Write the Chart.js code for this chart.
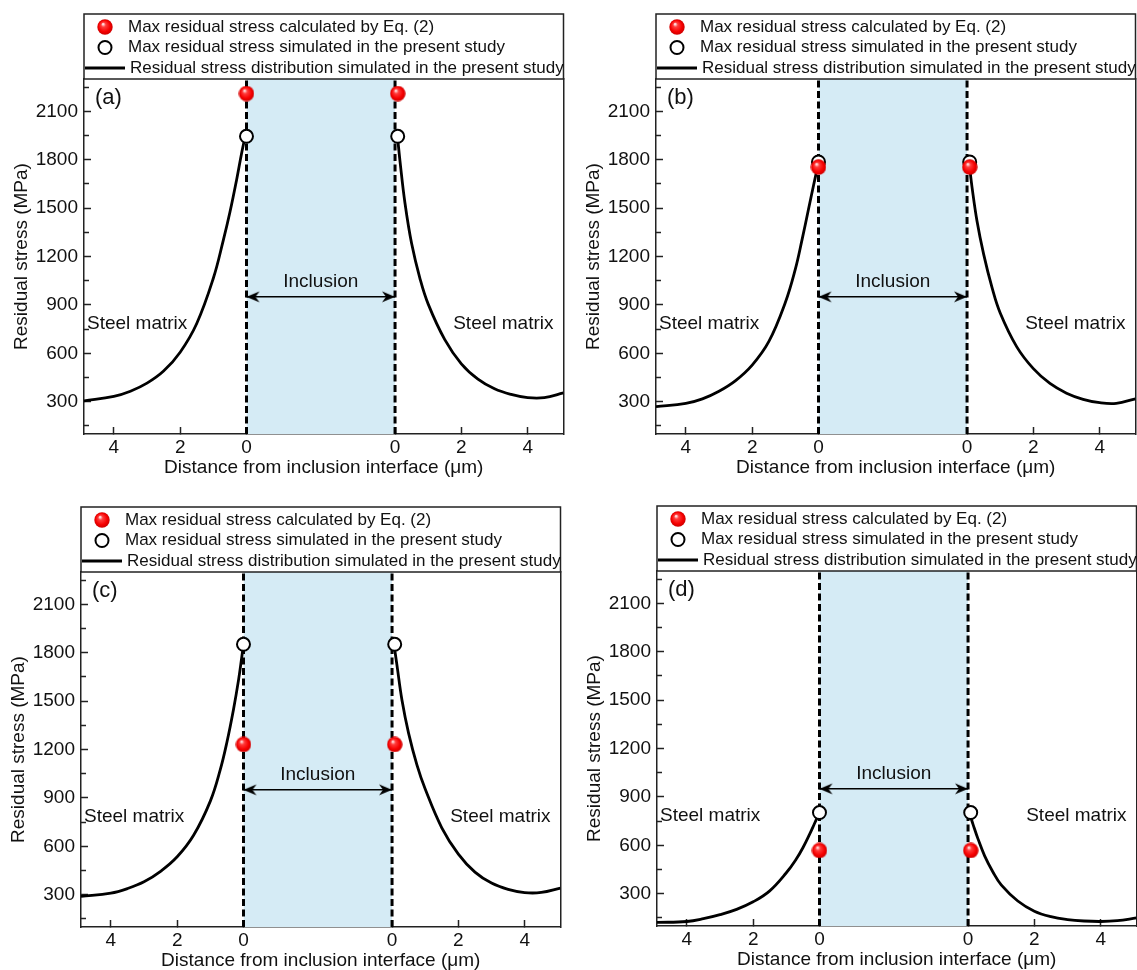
<!DOCTYPE html>
<html>
<head>
<meta charset="utf-8">
<title>Residual stress around inclusion</title>
<script src="https://cdn.jsdelivr.net/npm/chart.js@4.4.1/dist/chart.umd.min.js"></script>
<style>
  html, body { margin: 0; padding: 0; background: #fff; overflow: hidden; }
  body { position: relative; width: 1137px; height: 970px; }
  canvas { position: absolute; }
</style>
</head>
<body>
<canvas id="grafA" width="572" height="485" style="left:0px;top:0px"></canvas>
<canvas id="grafB" width="572" height="485" style="left:572px;top:0px"></canvas>
<canvas id="grafC" width="572" height="485" style="left:-3px;top:493px"></canvas>
<canvas id="grafD" width="572" height="485" style="left:573px;top:492px"></canvas>
<script>
// ---------- data ----------
const incWidth = 4.48;      // width of the inclusion zone on the x axis
const xMinDist = 4.9;       // distance shown left of the inclusion
const xMaxDist = 5.08;      // distance shown right of the inclusion
const yMin = 100;
const yMax = 2300;
const arrowY = 950;
const rightShift = 0.08;    // right markers sit a little off the interface

const xTickLabels = ['4', '2', '0', '0', '2', '4'];
const leftTickDist = [4, 2, 0];
const rightTickDist = [0, 2, 4];
const yTicks = [300, 600, 900, 1200, 1500, 1800, 2100];
const yMinorTicks = [150, 450, 750, 1050, 1350, 1650, 1950, 2250];

const leftDist  = [4.9, 4, 3.5, 3, 2.5, 2, 1.5, 1, 0.7, 0.5, 0.3, 0.15, 0.05, 0];
const rightDist = [0.08, 0.15, 0.3, 0.5, 0.75, 1, 1.5, 2, 2.5, 3, 3.5, 4, 4.5, 5.08];

const stressA_left  = [305, 333, 365, 415, 490, 607, 785, 1065, 1300, 1474, 1673, 1837, 1935, 1980];
const stressA_right = [1930, 1790, 1530, 1280, 1065, 905, 685, 535, 440, 380, 345, 325, 325, 355];
const stressB_left  = [270, 290, 318, 365, 431, 527, 672, 915, 1120, 1300, 1494, 1640, 1735, 1786];
const stressB_right = [1750, 1630, 1420, 1215, 1010, 850, 640, 505, 413, 353, 315, 294, 290, 318];
const stressC_left  = [290, 310, 338, 380, 445, 535, 670, 880, 1075, 1245, 1450, 1630, 1775, 1852];
const stressC_right = [1820, 1720, 1505, 1300, 1105, 955, 715, 552, 440, 372, 333, 313, 314, 341];
const stressD_left  = [122, 128, 145, 170, 203, 250, 318, 430, 515, 585, 668, 735, 780, 803];
const stressD_right = [775, 730, 640, 535, 435, 355, 255, 192, 158, 140, 131, 128, 133, 150];

const calcMax = [2210, 1754, 1231, 568];   // Eq. (2)
const simMax  = [1945, 1786, 1852, 803];   // simulated
const panelNames = ['(a)', '(b)', '(c)', '(d)'];
const legendLabels = [
    'Max residual stress calculated by Eq. (2)',
    'Max residual stress simulated in the present study',
    'Residual stress distribution simulated in the present study'
];

const leftStress  = [stressA_left, stressB_left, stressC_left, stressD_left];
const rightStress = [stressA_right, stressB_right, stressC_right, stressD_right];

const fontFamily = "'Liberation Sans', Arial, sans-serif";
Chart.defaults.font.family = fontFamily;
Chart.defaults.color = '#111';

const xTickPos = leftTickDist.map(d => -d).concat(rightTickDist.map(d => incWidth + d));

// ---------- point images ----------
function makeBall() {
    const c = document.createElement('canvas');
    c.width = 16; c.height = 16;
    const g = c.getContext('2d');
    const grad = g.createRadialGradient(6, 5, 0.5, 8, 8, 8);
    grad.addColorStop(0, '#ffe4e4');
    grad.addColorStop(0.25, '#ff3c3c');
    grad.addColorStop(0.7, '#f60000');
    grad.addColorStop(1, '#c80000');
    g.fillStyle = grad;
    g.beginPath(); g.arc(8, 8, 7.7, 0, Math.PI * 2); g.fill();
    return c;
}

function makeArrow() {
    // tip in the centre of the image, pointing left
    const c = document.createElement('canvas');
    c.width = 30; c.height = 14;
    const g = c.getContext('2d');
    g.fillStyle = '#000';
    g.beginPath();
    g.moveTo(15, 7); g.lineTo(28, 1.5); g.lineTo(24, 7); g.lineTo(28, 12.5);
    g.closePath(); g.fill();
    return c;
}

const ball = makeBall();
const arrowHead = makeArrow();

// ---------- plugins ----------
const boxLegend = {
    id: 'boxLegend',
    afterDraw(chart) {
        const { ctx, chartArea: a } = chart;
        const top = 14;
        ctx.save();
        ctx.lineWidth = 1.5;
        ctx.strokeStyle = '#222';
        ctx.strokeRect(a.left, top, a.right - a.left, a.top - top);
        ctx.font = '17px ' + fontFamily;
        ctx.fillStyle = '#111';
        ctx.textBaseline = 'middle';
        ctx.textAlign = 'left';
        chart.data.datasets.forEach(ds => {
            if (ds.legendRow === undefined) return;
            const y = top + 13 + ds.legendRow * 20.5;
            const sx = a.left + 21;
            if (ds.pointStyle instanceof HTMLCanvasElement) {
                ctx.drawImage(ds.pointStyle, sx - ds.pointStyle.width / 2, y - ds.pointStyle.height / 2);
                ctx.fillText(ds.label, a.left + 44, y);
            } else if (ds.showLine === false) {
                ctx.beginPath();
                ctx.arc(sx, y, ds.pointRadius, 0, Math.PI * 2);
                ctx.fillStyle = ds.pointBackgroundColor; ctx.fill();
                ctx.lineWidth = ds.pointBorderWidth; ctx.strokeStyle = ds.pointBorderColor; ctx.stroke();
                ctx.fillStyle = '#111';
                ctx.fillText(ds.label, a.left + 44, y);
            } else {
                ctx.beginPath();
                ctx.moveTo(a.left + 1, y); ctx.lineTo(a.left + 41, y);
                ctx.lineWidth = ds.borderWidth; ctx.strokeStyle = ds.borderColor; ctx.stroke();
                ctx.fillText(ds.label, a.left + 46, y);
            }
        });
        ctx.restore();
    }
};

const panelText = {
    id: 'panelText',
    afterDatasetsDraw(chart, args, opts) {
        const { ctx, chartArea: a, scales: { x, y } } = chart;
        const ay = y.getPixelForValue(arrowY);
        ctx.save();
        ctx.fillStyle = '#111';
        ctx.textBaseline = 'middle';
        ctx.textAlign = 'left';
        ctx.font = '22px ' + fontFamily;
        ctx.fillText(opts.name, a.left + 11, a.top + 19);
        ctx.font = '19px ' + fontFamily;
        ctx.textAlign = 'center';
        ctx.fillText('Inclusion', (x.getPixelForValue(0) + x.getPixelForValue(incWidth)) / 2, ay - 15);
        ctx.textAlign = 'left';
        ctx.fillText('Steel matrix', a.left + 3, ay + 27);
        ctx.textAlign = 'right';
        ctx.fillText('Steel matrix', a.right - 10, ay + 27);
        ctx.restore();
    }
};

// ---------- charts ----------
function datasetsFor(i) {
    const L = leftStress[i], R = rightStress[i];
    const curve = { borderColor: '#000', borderWidth: 2.8, pointRadius: 0, tension: 0.4, order: 3 };
    const edge = { borderColor: '#000', borderWidth: 3, borderDash: [7, 3.5], pointRadius: 0, order: 4 };
    return [
        { label: legendLabels[0], legendRow: 0, showLine: false, order: 0,
          data: [{ x: 0, y: calcMax[i] }, { x: incWidth + rightShift, y: calcMax[i] }],
          pointStyle: ball, pointRadius: 7.5 },
        { label: legendLabels[1], legendRow: 1, showLine: false, order: 1,
          data: [{ x: 0, y: simMax[i] }, { x: incWidth + rightShift, y: simMax[i] }],
          pointStyle: 'circle', pointRadius: 6.5, pointBorderWidth: 2,
          pointBorderColor: '#000', pointBackgroundColor: '#fff' },
        Object.assign({ label: legendLabels[2], legendRow: 2,
          data: leftDist.map((d, k) => ({ x: -d, y: L[k] })) }, curve),
        Object.assign({ label: 'right curve',
          data: rightDist.map((d, k) => ({ x: incWidth + d, y: R[k] })) }, curve),
        { label: 'arrow', order: 2, data: [{ x: 0, y: arrowY }, { x: incWidth, y: arrowY }],
          borderColor: '#000', borderWidth: 1.5, pointStyle: arrowHead, pointRadius: 1, pointRotation: [0, 180] },
        Object.assign({ label: 'interface L', data: [{ x: 0, y: yMin }, { x: 0, y: yMax }] }, edge),
        Object.assign({ label: 'interface R', data: [{ x: incWidth, y: yMin }, { x: incWidth, y: yMax }] }, edge),
        { label: 'inclusion', order: 5, data: [{ x: 0, y: yMax }, { x: incWidth, y: yMax }],
          fill: 'start', backgroundColor: '#d5ebf5', borderColor: 'rgba(0,0,0,0)', borderWidth: 0, pointRadius: 0 }
    ];
}

function desenhar(id, i) {
    const ctx = document.getElementById(id).getContext('2d');
    return new Chart(ctx, {
        type: 'line',
        data: { datasets: datasetsFor(i) },
        plugins: [boxLegend, panelText],
        options: {
            responsive: false,
            animation: false,
            events: [],
            layout: { padding: { left: 0, right: 6, top: 79, bottom: 0 } },
            plugins: { legend: { display: false }, tooltip: { enabled: false }, panelText: { name: panelNames[i] } },
            scales: {
                x: {
                    type: 'linear', min: -xMinDist, max: incWidth + xMaxDist,
                    afterBuildTicks: s => { s.ticks = xTickPos.map(v => ({ value: v })); },
                    afterFit: s => { s.height = 51; },
                    ticks: { callback: (v, k) => xTickLabels[k], padding: 9, font: { size: 19 }, autoSkip: false, maxRotation: 0 },
                    grid: { drawOnChartArea: false, tickLength: -7, tickWidth: 1.5, tickColor: '#222' },
                    border: { color: '#222', width: 1.5 },
                    title: { display: true, text: 'Distance from inclusion interface (μm)', font: { size: 19 }, padding: { top: 0, bottom: 6 } }
                },
                y: {
                    type: 'linear', position: 'left', weight: 1, min: yMin, max: yMax,
                    afterBuildTicks: s => { s.ticks = yTicks.map(v => ({ value: v })); },
                    afterFit: s => { s.width = 84; },
                    ticks: { callback: v => String(v), padding: 13, font: { size: 19 } },
                    grid: { drawOnChartArea: false, tickLength: -7, tickWidth: 1.5, tickColor: '#222' },
                    border: { color: '#222', width: 1.5 },
                    title: { display: true, text: 'Residual stress (MPa)', font: { size: 19 }, padding: { top: 10, bottom: 0 } }
                },
                yMinor: {
                    type: 'linear', position: 'left', weight: 0, min: yMin, max: yMax,
                    afterBuildTicks: s => { s.ticks = yMinorTicks.map(v => ({ value: v })); },
                    afterFit: s => { s.width = 0; },
                    ticks: { display: false },
                    grid: { drawOnChartArea: false, tickLength: -5, tickWidth: 1.5, tickColor: '#222' },
                    border: { display: false }
                },
                yR: {
                    type: 'linear', position: 'right', min: yMin, max: yMax,
                    afterFit: s => { s.width = 0; },
                    ticks: { display: false },
                    grid: { display: false },
                    border: { color: '#222', width: 1.5 }
                }
            }
        }
    });
}

desenhar('grafA', 0);
desenhar('grafB', 1);
desenhar('grafC', 2);
desenhar('grafD', 3);
</script>
</body>
</html>
